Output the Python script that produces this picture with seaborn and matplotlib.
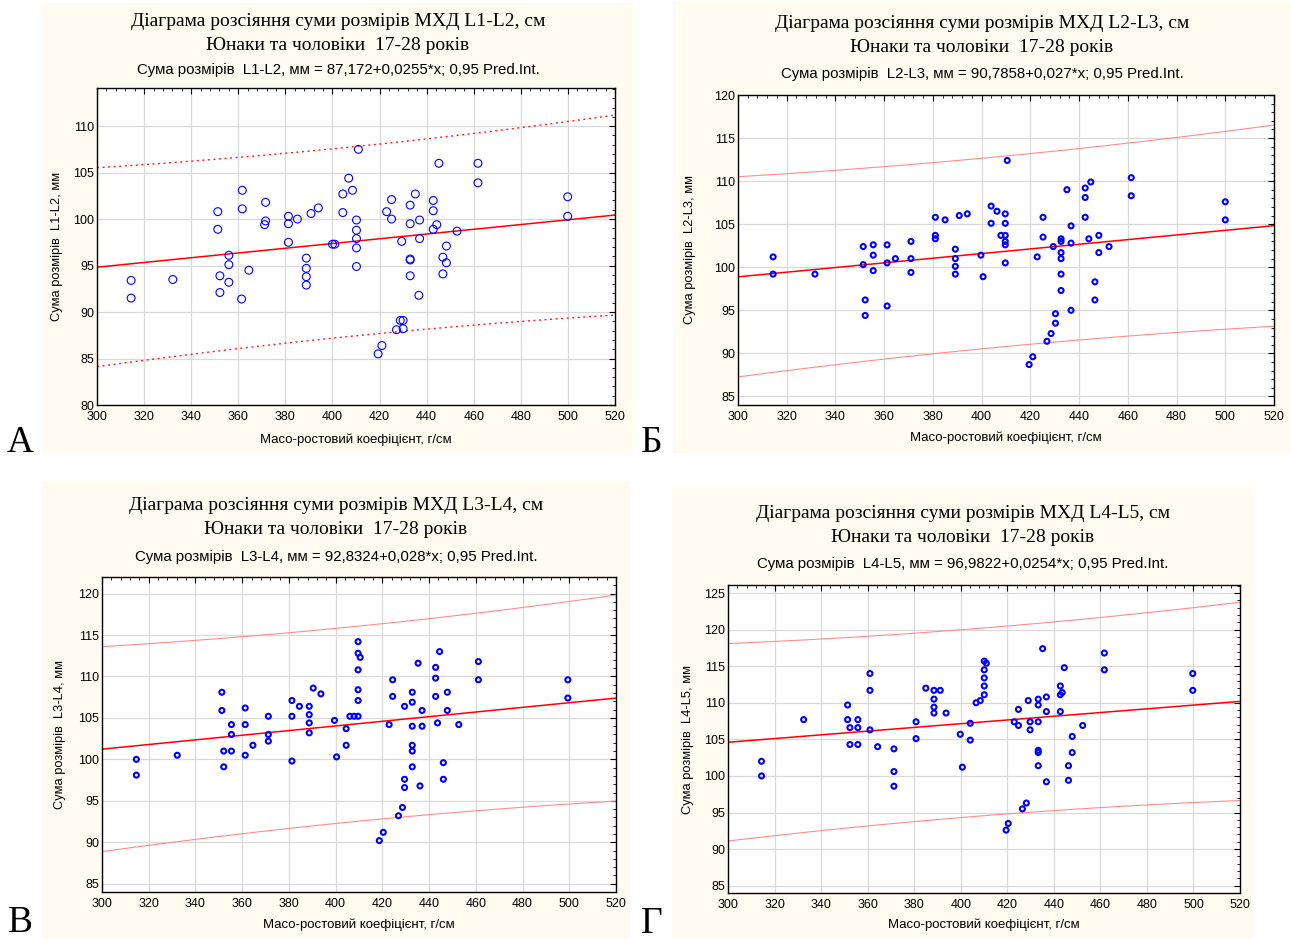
import matplotlib
matplotlib.use('AGG')

import numpy as np
import matplotlib.pyplot as plt
from matplotlib.patches import Rectangle
from matplotlib.ticker import MultipleLocator, AutoMinorLocator
import seaborn as sns

W, H = 1291, 939

title_1 = 'Діаграма розсіяння суми розмірів МХД {}, см'
title_2 = 'Юнаки та чоловіки  17-28 років'
x_label = 'Масо-ростовий коефіцієнт, г/см'

segments = ['L1-L2', 'L2-L3', 'L3-L4', 'L4-L5']
letters = ['А', 'Б', 'В', 'Г']
equations = ['87,172+0,0255*x', '90,7858+0,027*x', '92,8324+0,028*x', '96,9822+0,0254*x']
intercepts = [87.172, 90.7858, 92.8324, 96.9822]
slopes = [0.0255, 0.027, 0.028, 0.0254]
resid_sd = [5.07, 5.51, 5.86, 6.39]

a_x = [314.5, 314.5, 332.2, 351.3, 351.3, 352.2, 352.2, 356, 356, 356, 361.7, 361.7, 361.4, 364.5,
       371.6, 371.6, 371.2, 381.3, 381.3, 381.3, 385.1, 390.9, 394, 388.9, 388.9, 388.9, 388.9, 400,
       401, 404.4, 404.4, 406.9, 408.5, 411, 410.2, 410.2, 410.2, 410.2, 410.2, 421, 419.4, 423,
       425.1, 425.1, 427.2, 428.8, 430, 430, 429.4, 433, 433, 433, 433, 433, 435.2, 437, 437, 436.7,
       442.8, 442.8, 442.8, 444.3, 445.2, 448.4, 446.9, 448.4, 446.9, 452.9, 461.8, 461.8, 499.9, 499.9]
a_y = [93.4, 91.5, 93.5, 100.8, 98.9, 93.9, 92.1, 96.1, 95.1, 93.2, 103.1, 101.1, 91.4, 94.5,
       101.8, 99.8, 99.4, 100.3, 99.5, 97.5, 100, 100.6, 101.2, 95.8, 94.7, 93.8, 92.9, 97.3,
       97.3, 102.7, 100.7, 104.4, 103.1, 107.5, 99.9, 98.8, 97.9, 96.9, 94.9, 86.4, 85.5, 100.8,
       102.1, 100, 88.1, 89.1, 89.1, 88.2, 97.6, 101.5, 99.5, 95.7, 95.6, 93.9, 102.7, 99.9, 97.9, 91.8,
       102, 100.9, 98.9, 99.4, 106, 97.1, 95.9, 95.3, 94.1, 98.7, 106, 103.9, 102.4, 100.3]

b_x = [314.4, 314.4, 331.6, 351.4, 351.4, 352.2, 352.2, 355.5, 355.5, 355.5, 361.2, 361.2, 361.2,
       364.6, 371, 371, 371, 381, 381, 381, 385, 389.2, 389.2, 389.2, 389.2, 390.8, 394.1, 399.7,
       400.6, 403.9, 403.9, 406.3, 407.9, 409.7, 409.7, 409.7, 409.7, 409.7, 409.7, 410.5, 419.5,
       421, 422.8, 425.2, 425.2, 426.8, 428.5, 429.4, 430.3, 430.3, 432.6, 432.6, 432.6, 432.6,
       432.6, 432.6, 435, 436.7, 436.7, 436.7, 442.5, 442.5, 442.5, 444, 444.8, 446.5, 446.5,
       448.1, 448.1, 452.3, 461.4, 461.4, 500, 500]
b_y = [101.2, 99.2, 99.2, 102.4, 100.3, 96.2, 94.4, 102.6, 101.4, 99.6, 102.6, 100.5, 95.5,
       101, 103, 101, 99.4, 105.8, 103.7, 103.3, 105.5, 102.1, 101, 100.1, 99.2, 106, 106.2, 101.4,
       98.9, 107.1, 105.1, 106.5, 103.7, 106.2, 105.1, 103.7, 103, 102.6, 100.5, 112.4, 88.7,
       89.6, 101.2, 105.8, 103.5, 91.4, 92.3, 102.4, 93.5, 94.6, 103.3, 103, 101.7, 101,
       99.2, 97.3, 109, 104.8, 102.8, 95, 109.2, 108.1, 105.8, 103.3, 109.9, 98.3, 96.2,
       103.7, 101.7, 102.4, 110.4, 108.3, 107.6, 105.5]

c_x = [314.7, 314.7, 332.2, 351.3, 351.3, 352.1, 352.1, 355.4, 355.4, 355.4, 361.3, 361.3, 361.3,
       364.6, 371.2, 371.2, 371.2, 381.3, 381.3, 381.3, 384.5, 388.7, 388.7, 388.7, 388.7, 390.4,
       393.7, 399.5, 400.4, 404.5, 404.5, 406.1, 407.9, 409.6, 409.6, 409.6, 410.5, 409.6, 409.6,
       409.6, 418.7, 420.4, 422.9, 424.4, 424.4, 426.9, 428.6, 429.5, 429.5, 429.5, 432.8, 432.8,
       432.8, 432.8, 432.8, 432.8, 435.3, 436.1, 437, 437, 442.8, 442.8, 442.8, 443.6, 444.5,
       446.1, 446.1, 447.8, 447.8, 452.7, 461.1, 461.1, 499.4, 499.4]
c_y = [100, 98.1, 100.5, 108.1, 105.9, 101, 99.1, 104.2, 103, 101, 106.2, 104.2, 100.5,
       101.7, 105.2, 103, 102.2, 107.1, 105.2, 99.8, 106.4, 106.4, 105.4, 104.4, 103.2, 108.6,
       107.9, 104.7, 100.3, 103.7, 101.7, 105.2, 105.2, 105.2, 114.2, 112.8, 112.3, 110.8, 108.4,
       107.1, 90.2, 91.2, 104.2, 109.6, 107.6, 93.2, 94.2, 106.4, 97.6, 96.6, 108.1, 106.9,
       104, 101.7, 101, 99.1, 111.6, 96.8, 105.9, 104, 111.1, 109.8, 107.6, 104.4, 113,
       99.6, 97.6, 108.1, 105.9, 104.2, 111.8, 109.6, 109.6, 107.4]

d_x = [314.4, 314.4, 332.5, 351.4, 351.4, 352.4, 352.4, 355.8, 355.8, 355.8, 361, 361, 361,
       364.3, 371.3, 371.3, 371.3, 380.8, 380.8, 385, 388.5, 388.5, 388.5, 388.5, 391.2, 393.7,
       399.8, 400.7, 404.1, 404.1, 406.6, 408.4, 410.1, 411, 410.1, 410.1, 410.1, 410.1, 419.5,
       420.4, 423, 424.8, 424.8, 426.5, 428.2, 429, 429.8, 429.8, 433.3, 433.3, 433.3, 433.3,
       433.3, 433.3, 435.2, 436.8, 436.8, 436.8, 442.8, 442.8, 443.6, 442.8, 444.5, 446.3, 446.3,
       447.9, 447.9, 452.4, 461.7, 461.7, 499.7, 499.7]
d_y = [102, 100, 107.7, 109.7, 107.7, 106.6, 104.3, 107.7, 106.6, 104.3, 114, 111.7, 106.3,
       104, 103.7, 100.6, 98.6, 107.4, 105.1, 112, 111.7, 110.5, 109.4, 108.6, 111.7, 108.6,
       105.7, 101.2, 107.2, 104.9, 110, 110.3, 115.7, 115.4, 114.5, 113.4, 112.3, 111.1, 92.6,
       93.5, 107.4, 109.1, 106.9, 95.5, 96.3, 110.3, 107.4, 106.3, 110.5, 109.7, 107.4, 103.5,
       103.2, 101.4, 117.4, 110.8, 108.8, 99.2, 112.3, 111.1, 111.4, 108.8, 114.8, 101.4, 99.4,
       105.4, 103.2, 106.9, 116.8, 114.5, 114, 111.7]

data_x = [a_x, b_x, c_x, d_x]
data_y = [a_y, b_y, c_y, d_y]
y_limits = [(80, 114.1), (84, 120), (84, 122), (84, 126.1)]

# layout in pixels: (left, top, right, bottom)
cream = [(43, 3, 633, 453), (673, 2, 1291, 453), (42, 482, 630, 939), (672, 488, 1253, 939)]
axes_px = [(97, 88, 615, 405), (738, 95, 1274, 405), (102, 577, 616, 892), (728, 585, 1240, 893)]
title_y = [(22, 46, 70), (23, 48, 74), (506, 530, 557), (513, 537, 564)]
ylabel_x = [57, 690, 60, 688]
xlabel_y = [440, 438, 925, 925]
letter_pos = [(20, 452), (652, 452), (20, 932), (652, 933)]

sns.set_theme(style='white')
plt.rcParams['font.family'] = ['Liberation Sans', 'DejaVu Sans']
plt.rcParams['text.color'] = 'black'

fig = plt.figure(figsize=(W / 100, H / 100), dpi=100)


def fx(px):
    return px / W


def fy(py):
    return 1 - py / H


cream_color = '#fffbf0'
for i in range(4):
    l, t, r, b = cream[i]
    fig.patches.append(Rectangle((fx(l), fy(b)), (r - l) / W, (b - t) / H,
                                 transform=fig.transFigure, facecolor=cream_color,
                                 edgecolor='none', zorder=-10))

serif = ['Liberation Serif', 'DejaVu Serif']

for i in range(4):
    l, t, r, b = axes_px[i]
    ax = fig.add_axes([fx(l), fy(b), (r - l) / W, (b - t) / H])
    ax.set_zorder(2)
    ax.set_facecolor('white')
    xs = np.array(data_x[i])
    ys = np.array(data_y[i])

    if i == 0:
        sns.scatterplot(x=xs, y=ys, ax=ax, marker='o', s=32, color='#0000ff',
                        facecolor='none', edgecolor='#0000ff', linewidth=0.8, zorder=3)
    else:
        sns.scatterplot(x=xs, y=ys, ax=ax, marker='o', s=13, color='#0000ff',
                        facecolor='none', edgecolor='#0000ff', linewidth=1.5, zorder=3)

    # regression line and 0.95 prediction interval
    grid_x = np.linspace(300, 520, 200)
    fit = intercepts[i] + slopes[i] * grid_x
    n = len(xs)
    sxx = np.sum((xs - xs.mean()) ** 2)
    half = 1.994 * resid_sd[i] * np.sqrt(1 + 1 / n + (grid_x - xs.mean()) ** 2 / sxx)
    ax.plot(grid_x, fit, color='#ff0000', lw=1.1, zorder=2)
    if i == 0:
        ax.plot(grid_x, fit + half, color='#ff2020', lw=1.0, ls=(0, (1.5, 2.5)), zorder=2)
        ax.plot(grid_x, fit - half, color='#ff2020', lw=1.0, ls=(0, (1.5, 2.5)), zorder=2)
    else:
        ax.plot(grid_x, fit + half, color='#ff8c8c', lw=0.8, zorder=2)
        ax.plot(grid_x, fit - half, color='#ff8c8c', lw=0.8, zorder=2)

    ax.set_xlim(300, 520)
    ax.set_ylim(*y_limits[i])
    ax.xaxis.set_major_locator(MultipleLocator(20))
    ax.yaxis.set_major_locator(MultipleLocator(5))
    ax.xaxis.set_minor_locator(AutoMinorLocator(5))
    ax.yaxis.set_minor_locator(AutoMinorLocator(5))
    ax.grid(True, which='major', color='#d9d9d9', lw=0.9, zorder=0)
    ax.set_axisbelow(True)
    ax.tick_params(which='both', direction='in', top=True, right=True, colors='black',
                   labelsize=9)
    ax.tick_params(axis='x', which='major', pad=4.5)
    ax.tick_params(axis='y', which='major', pad=2)
    ax.tick_params(which='major', length=4, width=0.8)
    ax.tick_params(which='minor', length=2, width=0.6)
    for sp in ax.spines.values():
        sp.set_color('black')
        sp.set_linewidth(1.0)
    ax.set_xlabel('')
    ax.set_ylabel('')

    cx = (cream[i][0] + cream[i][2]) / 2
    fig.text(fx(cx), fy(title_y[i][0]), title_1.format(segments[i]), ha='center', va='center',
             family=serif, fontsize=14)
    fig.text(fx(cx), fy(title_y[i][1]), title_2, ha='center', va='center',
             family=serif, fontsize=14)
    fig.text(fx(cx), fy(title_y[i][2]),
             'Сума розмірів  {}, мм = {}; 0,95 Pred.Int.'.format(segments[i], equations[i]),
             ha='center', va='center', fontsize=10.8)
    fig.text(fx(ylabel_x[i]), fy((t + b) / 2), 'Сума розмірів  {}, мм'.format(segments[i]),
             rotation=90, ha='center', va='center', fontsize=9.3)
    fig.text(fx((l + r) / 2), fy(xlabel_y[i]), x_label, ha='center', va='center', fontsize=9.5)
    fig.text(fx(letter_pos[i][0]), fy(letter_pos[i][1]), letters[i], ha='center', va='baseline',
             family=serif, fontsize=27)

fig.savefig('out.png', dpi=100, facecolor='white')
